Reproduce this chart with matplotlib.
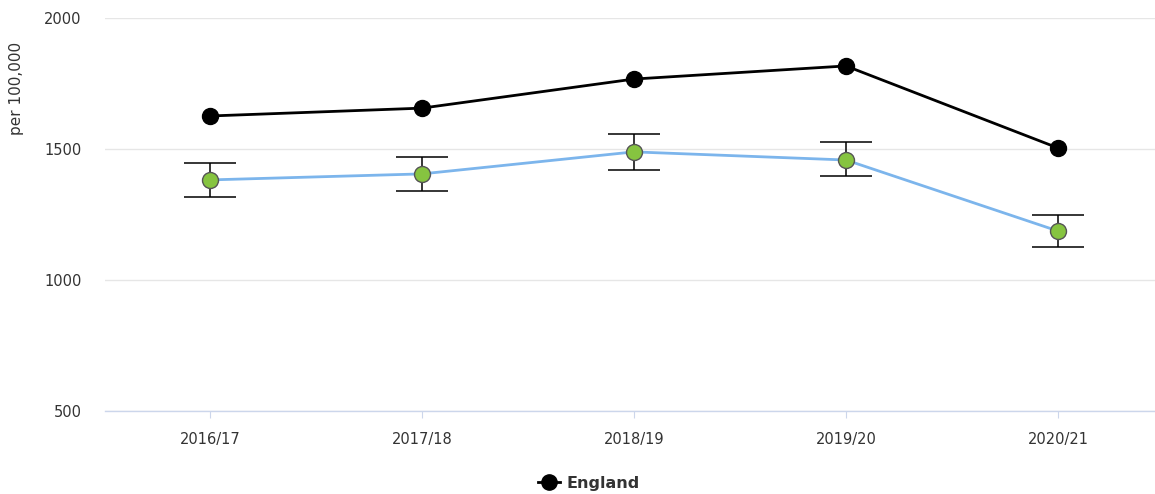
import matplotlib
matplotlib.use("Agg")
import matplotlib.pyplot as plt
import numpy as np
from matplotlib.lines import Line2D

periods = ["2016/17", "2017/18", "2018/19", "2019/20", "2020/21"]
england = [1626, 1656, 1767, 1817, 1504]
local = [1382, 1405, 1489, 1458, 1187]
local_lower = [1317, 1340, 1420, 1397, 1126]
local_upper = [1447, 1469, 1557, 1527, 1248]
y_ticks = [500, 1000, 1500, 2000]

plt.rcParams['font.family'] = ['DejaVu Sans']

fig = plt.figure(figsize=(11.55, 4.94), dpi=100)
ax = fig.add_axes([105/1155, 83/494, 1050/1155, 393/494])

x = np.arange(len(periods))
loc = np.array(local)
yerr = [loc - np.array(local_lower), np.array(local_upper) - loc]

ax.plot(x, england, color='black', lw=2, marker='o', ms=11.5,
        markerfacecolor='black', markeredgecolor='black', zorder=4)
ax.plot(x, local, color='#7cb5ec', lw=2, zorder=3)
ax.errorbar(x, local, yerr=yerr, fmt='none', ecolor='black', elinewidth=1.1,
            capsize=19, capthick=1.1, zorder=5)
ax.plot(x, local, ls='none', marker='o', ms=11.5, markerfacecolor='#86c440',
        markeredgecolor='#555555', markeredgewidth=1, zorder=6)

ax.set_ylim(500, 2000)
ax.set_xlim(-0.495, 4.458)
ax.set_yticks(y_ticks)
ax.set_yticklabels([str(v) for v in y_ticks])
ax.set_xticks(x)
ax.set_xticklabels(periods)
ax.grid(axis='y', color='#e6e6e6', lw=1)
ax.set_axisbelow(True)
for s in ['top', 'right', 'left']:
    ax.spines[s].set_visible(False)
ax.spines['bottom'].set_color('#ccd6eb')
ax.spines['bottom'].set_linewidth(1)
ax.tick_params(axis='y', length=0, pad=17, labelsize=10.5, labelcolor='#333333')
ax.tick_params(axis='x', length=5, color='#ccd6eb', pad=10, labelsize=10.5,
               labelcolor='#333333')
ax.set_ylabel('per 100,000', fontsize=11, color='#333333')
ax.yaxis.set_label_coords(-0.077, 0.82)

handle = Line2D([0], [0], color='black', lw=2, marker='o', ms=11,
                markerfacecolor='black')
fig.legend([handle], ['England'], loc='center', bbox_to_anchor=(0.51, 0.022),
           frameon=False, handlelength=1.4, handletextpad=0.4,
           prop={'weight': 'bold', 'size': 11.5})
for t in fig.legends[0].get_texts():
    t.set_color('#333333')

fig.savefig('out.png', dpi=100)
